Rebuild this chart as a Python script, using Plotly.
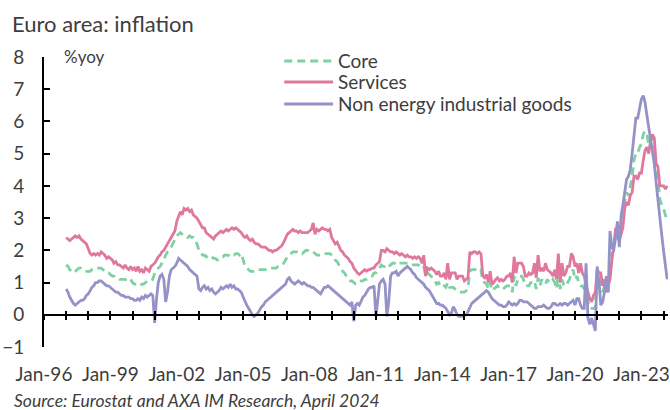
import pandas as pd
import plotly.graph_objects as go

# Euro area HICP, % year on year, monthly from Jan 1997 to Mar 2024
core = [
    1.55, 1.5, 1.4, 1.35, 1.3, 1.35, 1.4, 1.45, 1.45, 1.4, 1.35, 1.35,      # 1997
    1.35, 1.35, 1.4, 1.4, 1.45, 1.45, 1.45, 1.45, 1.4, 1.35, 1.3, 1.3,      # 1998
    1.25, 1.2, 1.2, 1.15, 1.15, 1.1, 1.1, 1.1, 1.1, 1.05, 1.05, 1.1,        # 1999
    1.0, 0.95, 0.95, 0.95, 0.9, 0.95, 0.95, 1.0, 1.05, 1.05, 1.05, 1.1,     # 2000
    1.3, 1.35, 1.45, 1.5, 1.6, 1.7, 1.85, 1.95, 2.0, 2.1, 2.25, 2.35,       # 2001
    2.45, 2.5, 2.55, 2.5, 2.45, 2.45, 2.4, 2.45, 2.4, 2.4, 2.3, 2.2,        # 2002
    2.0, 1.9, 1.85, 1.85, 1.8, 1.85, 1.8, 1.8, 1.75, 1.75, 1.7, 1.75,       # 2003
    1.8, 1.8, 1.85, 1.85, 1.85, 1.8, 1.85, 1.85, 1.9, 1.9, 1.85, 1.9,       # 2004
    1.65, 1.5, 1.45, 1.4, 1.35, 1.35, 1.35, 1.35, 1.4, 1.4, 1.4, 1.4,       # 2005
    1.4, 1.4, 1.4, 1.45, 1.45, 1.45, 1.45, 1.5, 1.5, 1.55, 1.6, 1.7,        # 2006
    1.8, 1.85, 1.9, 1.95, 1.95, 1.95, 1.95, 1.95, 1.9, 1.95, 2.0, 2.0,      # 2007
    1.95, 1.95, 1.95, 1.9, 1.85, 1.85, 1.85, 1.9, 1.9, 1.9, 1.9, 1.9,       # 2008
    1.85, 1.8, 1.7, 1.65, 1.55, 1.45, 1.35, 1.3, 1.2, 1.1, 1.05, 1.05,      # 2009
    1.0, 0.95, 0.95, 1.0, 1.05, 1.05, 1.1, 1.1, 1.15, 1.2, 1.2, 1.3,        # 2010
    1.3, 1.35, 1.45, 1.55, 1.5, 1.5, 1.55, 1.5, 1.55, 1.6, 1.6, 1.55,       # 2011
    1.6, 1.6, 1.6, 1.6, 1.6, 1.6, 1.6, 1.55, 1.55, 1.55, 1.55, 1.55,        # 2012
    1.5, 1.45, 1.5, 1.2, 1.3, 1.25, 1.2, 1.1, 1.05, 0.95, 1.0, 0.9,         # 2013
    0.85, 0.9, 0.85, 1.0, 0.85, 0.85, 0.85, 0.8, 0.75, 0.7, 0.7, 0.7,       # 2014
    0.7, 0.75, 0.85, 1.35, 1.4, 1.4, 1.4, 1.35, 1.4, 1.4, 1.05, 1.0,        # 2015
    0.95, 0.8, 1.0, 0.75, 0.8, 0.85, 0.9, 0.8, 0.8, 0.8, 0.85, 0.9,         # 2016
    0.9, 0.9, 0.7, 1.2, 0.9, 1.1, 1.2, 1.2, 1.1, 0.9, 0.9, 0.9,             # 2017
    1.0, 1.0, 1.05, 0.8, 1.15, 0.9, 1.1, 1.0, 0.95, 1.1, 1.0, 1.0,          # 2018
    1.1, 1.0, 0.8, 1.3, 0.8, 1.1, 0.9, 0.9, 1.0, 1.1, 1.3, 1.4,             # 2019
    1.1, 1.2, 1.0, 0.9, 0.9, 0.8, 1.2, 0.4, 0.2, 0.2, 0.2, 0.2,             # 2020
    1.4, 1.1, 0.9, 0.7, 0.9, 0.9, 0.7, 1.6, 1.9, 2.0, 2.6, 2.7,             # 2021
    2.3, 2.7, 2.9, 3.5, 3.8, 3.7, 4.0, 4.3, 4.8, 5.0, 5.0, 5.2,             # 2022
    5.3, 5.6, 5.7, 5.6, 5.3, 5.5, 5.5, 5.3, 4.5, 4.2, 3.6, 3.4,             # 2023
    3.3, 3.1, 2.9,                                                          # 2024
]

services = [
    2.4, 2.35, 2.3, 2.35, 2.4, 2.45, 2.4, 2.45, 2.35, 2.3, 2.25, 2.2,       # 1997
    2.05, 1.9, 1.85, 1.9, 1.85, 1.9, 1.85, 1.95, 1.9, 1.85, 1.75, 1.8,      # 1998
    1.75, 1.7, 1.6, 1.65, 1.55, 1.55, 1.5, 1.45, 1.55, 1.45, 1.4, 1.5,      # 1999
    1.4, 1.45, 1.35, 1.5, 1.35, 1.4, 1.3, 1.45, 1.4, 1.35, 1.5, 1.55,       # 2000
    1.6, 1.7, 1.8, 1.85, 1.95, 2.0, 2.1, 2.2, 2.3, 2.4, 2.5, 2.6,           # 2001
    2.9, 3.1, 3.2, 3.1, 3.3, 3.25, 3.3, 3.2, 3.25, 3.1, 3.05, 3.0,          # 2002
    2.9, 2.8, 2.7, 2.7, 2.55, 2.5, 2.45, 2.4, 2.35, 2.45, 2.5, 2.55,        # 2003
    2.6, 2.55, 2.6, 2.65, 2.6, 2.65, 2.7, 2.65, 2.7, 2.65, 2.6, 2.55,       # 2004
    2.45, 2.4, 2.45, 2.35, 2.3, 2.35, 2.25, 2.2, 2.2, 2.15, 2.1, 2.1,       # 2005
    2.1, 2.05, 2.0, 2.0, 1.95, 2.0, 2.0, 2.05, 2.1, 2.15, 2.25, 2.35,       # 2006
    2.5, 2.55, 2.6, 2.65, 2.6, 2.6, 2.55, 2.6, 2.55, 2.55, 2.55, 2.55,      # 2007
    2.6, 2.65, 2.85, 2.5, 2.65, 2.6, 2.65, 2.7, 2.65, 2.65, 2.6, 2.65,      # 2008
    2.4, 2.3, 2.2, 2.25, 2.1, 2.0, 1.95, 1.85, 1.8, 1.75, 1.65, 1.6,        # 2009
    1.45, 1.35, 1.3, 1.25, 1.3, 1.35, 1.4, 1.35, 1.4, 1.4, 1.45, 1.45,      # 2010
    1.55, 1.6, 1.65, 2.0, 2.0, 1.95, 2.05, 2.0, 1.95, 1.95, 1.9, 1.95,      # 2011
    1.9, 1.85, 1.9, 1.85, 1.8, 1.85, 1.8, 1.8, 1.75, 1.8, 1.75, 1.8,        # 2012
    1.75, 1.6, 1.85, 1.2, 1.45, 1.4, 1.45, 1.4, 1.35, 1.25, 1.35, 1.2,      # 2013
    1.2, 1.3, 1.1, 1.6, 1.1, 1.3, 1.3, 1.3, 1.1, 1.2, 1.2, 1.2,             # 2014
    1.05, 1.1, 1.15, 1.95, 1.9, 1.95, 1.95, 1.9, 1.95, 1.9, 1.2, 1.15,      # 2015
    1.25, 1.0, 1.35, 0.95, 1.0, 1.1, 1.15, 1.05, 1.1, 1.05, 1.1, 1.2,       # 2016
    1.2, 1.3, 1.0, 1.8, 1.3, 1.6, 1.6, 1.6, 1.5, 1.2, 1.2, 1.3,             # 2017
    1.25, 1.3, 1.6, 1.15, 1.85, 1.35, 1.45, 1.35, 1.6, 1.4, 1.35, 1.3,      # 2018
    1.2, 1.4, 1.1, 1.9, 1.0, 1.6, 1.2, 1.3, 1.5, 1.5, 1.9, 1.8,             # 2019
    1.5, 1.6, 1.3, 1.6, 1.3, 1.2, 0.9, 0.7, 0.5, 0.4, 0.6, 0.7,             # 2020
    1.4, 1.3, 1.3, 0.9, 1.1, 0.7, 0.9, 1.1, 1.7, 2.1, 2.7, 2.4,             # 2021
    2.3, 2.5, 2.7, 3.3, 3.5, 3.4, 3.7, 3.8, 4.3, 4.3, 4.2, 4.4,             # 2022
    4.4, 4.8, 5.1, 5.2, 5.0, 5.4, 5.6, 5.5, 4.7, 4.6, 4.0, 4.0,             # 2023
    4.0, 3.9, 4.0,                                                          # 2024
]

neig = [
    0.8, 0.7, 0.55, 0.45, 0.35, 0.3, 0.35, 0.4, 0.45, 0.45, 0.5, 0.6,       # 1997
    0.65, 0.75, 0.85, 0.9, 1.0, 1.0, 1.05, 1.05, 1.0, 0.95, 0.9, 0.9,       # 1998
    0.85, 0.8, 0.75, 0.7, 0.7, 0.65, 0.6, 0.6, 0.55, 0.55, 0.55, 0.5,       # 1999
    0.5, 0.45, 0.45, 0.5, 0.45, 0.55, 0.5, 0.6, 0.55, 0.6, 0.65, 0.6,       # 2000
    -0.25, 0.5, 1.0, 1.2, 1.25, 1.1, 0.4, 0.7, 1.2, 1.4, 1.45, 1.5,         # 2001
    1.6, 1.75, 1.7, 1.65, 1.6, 1.55, 1.5, 1.4, 1.35, 1.3, 1.25, 1.2,        # 2002
    0.8, 0.75, 0.85, 0.9, 0.8, 0.85, 0.75, 0.8, 0.7, 0.65, 0.7, 0.75,       # 2003
    0.85, 0.8, 0.85, 0.9, 0.85, 0.95, 0.85, 0.9, 0.8, 0.8, 0.75, 0.7,       # 2004
    0.55, 0.4, 0.3, 0.2, 0.1, 0.0, -0.05, 0.0, 0.05, 0.15, 0.25, 0.3,       # 2005
    0.4, 0.45, 0.5, 0.55, 0.6, 0.65, 0.7, 0.75, 0.8, 0.85, 0.9, 0.95,       # 2006
    1.1, 1.15, 1.05, 1.0, 0.95, 1.0, 1.05, 1.0, 0.95, 1.0, 0.95, 0.9,       # 2007
    0.9, 0.85, 0.85, 0.8, 0.75, 0.7, 0.65, 0.75, 0.85, 0.85, 0.9, 0.85,     # 2008
    0.8, 0.75, 0.7, 0.65, 0.6, 0.55, 0.5, 0.45, 0.4, 0.35, 0.3, 0.4,        # 2009
    -0.2, 0.3, 0.35, 0.3, 0.45, 0.55, 0.6, 0.7, 0.8, 0.85, 0.85, 0.9,       # 2010
    -0.05, 0.45, 0.95, 1.05, 1.1, 0.95, -0.05, 0.4, 1.2, 1.3, 1.3, 1.35,    # 2011
    1.2, 1.3, 1.35, 1.4, 1.45, 1.5, 1.45, 1.4, 1.3, 1.25, 1.15, 1.1,        # 2012
    1.05, 1.0, 0.95, 0.85, 0.8, 0.75, 0.65, 0.55, 0.45, 0.35, 0.35, 0.3,    # 2013
    0.3, 0.25, 0.2, 0.1, 0.0, 0.05, 0.25, 0.15, 0.0, -0.05, -0.05, -0.05,   # 2014
    0.0, 0.0, 0.1, 0.25, 0.35, 0.4, 0.45, 0.5, 0.55, 0.6, 0.65, 0.7,        # 2015
    0.75, 0.7, 0.6, 0.5, 0.45, 0.4, 0.35, 0.3, 0.3, 0.25, 0.25, 0.3,        # 2016
    0.4, 0.35, 0.3, 0.35, 0.3, 0.35, 0.45, 0.45, 0.4, 0.4, 0.4, 0.35,       # 2017
    0.3, 0.25, 0.2, 0.2, 0.25, 0.25, 0.25, 0.3, 0.25, 0.2, 0.2, 0.25,       # 2018
    0.35, 0.35, 0.3, 0.3, 0.35, 0.3, 0.35, 0.35, 0.3, 0.35, 0.4, 0.45,      # 2019
    0.3, 0.5, 0.5, 0.3, 0.2, 0.2, 1.6, -0.1, -0.3, -0.1, -0.3, -0.5,        # 2020
    1.5, 1.0, 0.3, 0.4, 0.7, 1.2, 0.7, 2.6, 2.1, 2.0, 2.4, 2.9,             # 2021
    2.1, 3.1, 3.4, 3.8, 4.2, 4.3, 4.5, 5.0, 5.5, 6.1, 6.1, 6.4,             # 2022
    6.7, 6.8, 6.6, 6.2, 5.8, 5.5, 5.0, 4.7, 4.1, 3.5, 2.9, 2.5,             # 2023
    2.0, 1.6, 1.1,                                                          # 2024
]

series_names = ["Core", "Services", "Non energy industrial goods"]
y_ticks = [-1, 0, 1, 2, 3, 4, 5, 6, 7, 8]

months = pd.date_range("1997-01-01", periods=len(core), freq="MS")

FONT = "Lato"
TEXT = "#3d3d3d"
COLORS = {"Core": "#7fd0a3", "Services": "#e0789d", "Non energy industrial goods": "#9492c6"}
DASHES = {"Core": "8px,5px", "Services": "solid", "Non energy industrial goods": "solid"}

W, H = 670, 410
ML, MR, MT, MB = 44, 0, 57, 63
PW, PH = W - ML - MR, H - MT - MB
X_RANGE = ["1996-01-01", "2024-03-15"]
Y_RANGE = [y_ticks[0], y_ticks[-1]]


def px_x(px):
    return (px - ML) / PW


def px_y(py):
    return (H - MB - py) / PH


fig = go.Figure()
for name, values in zip(series_names, [core, services, neig]):
    fig.add_trace(go.Scatter(
        x=months, y=values, name=name, mode="lines",
        line=dict(color=COLORS[name], width=2.8, dash=DASHES[name]),
        showlegend=False,
    ))

# empty traces so the two overlay axes carrying the crossing ticks at y=0 are drawn
for ax in ("x2", "x3"):
    fig.add_trace(go.Scatter(x=[], y=[], xaxis=ax, showlegend=False, hoverinfo="skip"))

zero_pos = (0 - Y_RANGE[0]) / (Y_RANGE[1] - Y_RANGE[0])
cross_axis = dict(
    type="date", range=X_RANGE, overlaying="x", anchor="free", position=zero_pos,
    tickmode="linear", tick0="1996-01-01", dtick="M12",
    ticklen=4, tickwidth=2, tickcolor="black",
    showticklabels=False, showgrid=False, zeroline=False,
)

fig.update_layout(
    width=W, height=H,
    margin=dict(l=ML, r=MR, t=MT, b=MB, pad=0),
    paper_bgcolor="white", plot_bgcolor="white",
    font=dict(family=FONT, color=TEXT, size=19),
    title=dict(
        text="Euro area: inflation", font=dict(family=FONT, size=22, color=TEXT),
        x=12 / W, xanchor="left", xref="container",
        y=1 - 24 / H, yanchor="middle", yref="container",
    ),
    xaxis=dict(
        type="date", range=X_RANGE,
        tickmode="linear", tick0="1996-01-01", dtick="M36", tickformat="%b-%y",
        ticks="", showline=False, showgrid=False, zeroline=False,
        tickfont=dict(family=FONT, size=19, color=TEXT),
        ticklabelstandoff=14, ticklabeloverflow="allow",
    ),
    xaxis2=dict(cross_axis, ticks="outside", showline=True, linewidth=2, linecolor="black"),
    xaxis3=dict(cross_axis, ticks="inside", showline=False),
    yaxis=dict(
        range=Y_RANGE, tickmode="array", tickvals=y_ticks,
        ticks="inside", ticklen=6, tickwidth=2, tickcolor="black",
        showline=True, linewidth=2, linecolor="black",
        showgrid=False, zeroline=False,
        tickfont=dict(family=FONT, size=19, color=TEXT),
        ticklabelstandoff=14,
    ),
    showlegend=False,
)

# unit label
fig.add_annotation(
    text="%yoy", xref="paper", yref="paper", x=px_x(62), y=px_y(56),
    xanchor="left", yanchor="middle", showarrow=False,
    font=dict(family=FONT, size=17, color=TEXT),
)

# legend: line sample followed by the series name
legend_rows = [61, 82, 104]
for name, row in zip(series_names, legend_rows):
    fig.add_shape(
        type="line", xref="paper", yref="paper",
        x0=px_x(285), x1=px_x(334), y0=px_y(row), y1=px_y(row),
        line=dict(color=COLORS[name], width=2.8, dash=DASHES[name]),
    )
    fig.add_annotation(
        text=name, xref="paper", yref="paper", x=px_x(337), y=px_y(row - 1),
        xanchor="left", yanchor="middle", showarrow=False,
        font=dict(family=FONT, size=19, color=TEXT),
    )

# source note
fig.add_annotation(
    text="<i>Source: Eurostat and AXA IM Research, April 2024</i>",
    xref="paper", yref="paper", x=px_x(12), y=px_y(400),
    xanchor="left", yanchor="middle", showarrow=False,
    font=dict(family=FONT, size=17.5, color=TEXT),
)

fig.write_html("out.html")
